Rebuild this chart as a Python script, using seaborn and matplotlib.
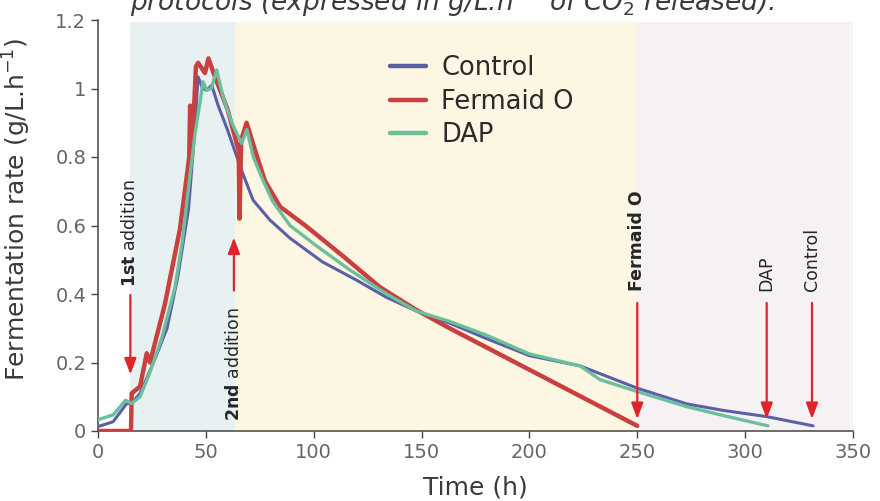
import numpy as np
import pandas as pd
import matplotlib
matplotlib.use("Agg")
import matplotlib.pyplot as plt
import seaborn as sns

# data
control_t = [0, 7, 13.3, 15.5, 19.5, 23, 27, 32, 37, 42, 44.5, 46.4, 48.5, 50.5, 52.7,
             55.7, 60, 66.6, 71.9, 79.7, 89, 104, 120, 133.8, 147.7, 163, 180, 200,
             223.5, 250, 273, 290, 310, 331.5]
control_v = [0.013, 0.027, 0.08, 0.08, 0.11, 0.16, 0.22, 0.30, 0.45, 0.65, 0.85, 1.034,
             1.0, 0.995, 1.01, 0.95, 0.88, 0.76, 0.674, 0.616, 0.563, 0.494, 0.44, 0.39,
             0.35, 0.315, 0.27, 0.22, 0.19, 0.125, 0.079, 0.06, 0.042, 0.015]

fermaid_t = [0, 15.3, 15.6, 19.5, 22.6, 24.1, 31, 38, 42.3, 42.7, 43.5, 45.4, 46.4, 49.6,
             51.2, 54.2, 60, 64.3, 65.2, 65.6, 66.4, 68.9, 72.8, 77.4, 84.4, 96.7, 113.7,
             130.7, 147.7, 163, 250]
fermaid_v = [0, 0, 0.11, 0.13, 0.227, 0.20, 0.37, 0.59, 0.80, 0.95, 0.80, 1.064, 1.075,
             1.045, 1.088, 1.034, 0.94, 0.84, 0.82, 0.62, 0.85, 0.90, 0.82, 0.73, 0.655,
             0.597, 0.51, 0.42, 0.353, 0.30, 0.015]

dap_t = [0, 7, 12.8, 15.5, 19.5, 24, 29.5, 35.7, 39, 42.7, 45, 47.3, 48.7, 50.4, 52.5,
         55, 58, 62, 66.6, 69, 72, 76.6, 81, 89, 101.4, 116.8, 133.8, 147.7, 163, 180,
         200, 223.5, 232.7, 250, 273, 290, 310.6]
dap_v = [0.033, 0.047, 0.09, 0.08, 0.10, 0.17, 0.27, 0.42, 0.55, 0.75, 0.87, 0.96, 1.02,
         0.995, 1.0, 1.054, 0.975, 0.9, 0.84, 0.88, 0.80, 0.73, 0.67, 0.6, 0.54, 0.47,
         0.40, 0.35, 0.32, 0.28, 0.225, 0.19, 0.15, 0.115, 0.071, 0.045, 0.015]

series_names = ["Control", "Fermaid O", "DAP"]
series_colors = ["#5a5fa6", "#c8403f", "#6cbf9b"]
series_widths = [2.2, 3.2, 2.4]

phases = [(15, 63.5, "#e8f1f1"), (63.5, 250, "#fdf6e2"), (250, 350, "#f6f2f4")]

# (time, text, bold part, arrow start, arrow end, text bottom)
markers = [
    (15, "1st addition", True, 0.397, 0.165, 0.42),
    (63, "2nd addition", True, 0.41, 0.565, 0.03),
    (250, "Fermaid O", True, 0.374, 0.035, 0.41),
    (310, "DAP", False, 0.374, 0.035, 0.41),
    (331, "Control", False, 0.374, 0.035, 0.41),
]

df = pd.concat([
    pd.DataFrame({"time": control_t, "rate": control_v, "protocol": "Control"}),
    pd.DataFrame({"time": fermaid_t, "rate": fermaid_v, "protocol": "Fermaid O"}),
    pd.DataFrame({"time": dap_t, "rate": dap_v, "protocol": "DAP"}),
])

sns.set_theme(style="ticks")
plt.rcParams["font.family"] = ["DejaVu Sans"]
plt.rcParams["mathtext.fontset"] = "dejavusans"

fig = plt.figure(figsize=(8.8, 5.01), dpi=100)
ax = fig.add_axes([98 / 880, 70 / 501, 755 / 880, 411 / 501])

for x0, x1, c in phases:
    ax.axvspan(x0, x1, ymin=0, ymax=0.995, color=c, lw=0, zorder=0)

for name, col, lw in zip(series_names, series_colors, series_widths):
    sns.lineplot(data=df[df.protocol == name], x="time", y="rate", ax=ax,
                 color=col, linewidth=lw, sort=False, estimator=None,
                 label=name, zorder=3)

red = "#e2232b"
for t, txt, bold, y0, y1, ytxt in markers:
    ax.annotate("", xy=(t, y1), xytext=(t, y0),
                arrowprops=dict(arrowstyle="-|>,head_length=0.8,head_width=0.3",
                                color=red, lw=1.6, shrinkA=0, shrinkB=0), zorder=4)
    if bold and txt.endswith("addition"):
        first, rest = txt.split(" ", 1)
        label = r"$\mathbf{" + first + "}$ " + rest
        weight = "normal"
    else:
        label = txt
        weight = "bold" if bold else "normal"
    ax.text(t, ytxt, label, rotation=90, ha="center", va="bottom",
            fontsize=12.5, color="#262626", fontweight=weight, zorder=5)

ax.set_xlim(0, 350)
ax.set_ylim(0, 1.2)
ax.set_xticks(range(0, 351, 50))
ax.set_yticks([0, 0.2, 0.4, 0.6, 0.8, 1.0, 1.2])
ax.set_yticklabels(["0", "0.2", "0.4", "0.6", "0.8", "1", "1.2"])
ax.tick_params(labelsize=14, colors="#444444", labelcolor="#666666", length=5, width=1)
ax.tick_params(axis="x", pad=4)
sns.despine(ax=ax)
for s in ["left", "bottom"]:
    ax.spines[s].set_color("#444444")
    ax.spines[s].set_linewidth(1.1)

ax.set_xlabel("Time (h)", fontsize=18, color="#3a3a3a", labelpad=9)
ax.set_ylabel(r"Fermentation rate (g/L.h$^{-1}$)", fontsize=18, color="#3a3a3a")
ax.yaxis.set_label_coords(-0.086, 0.54)

leg = ax.legend(loc="upper left", bbox_to_anchor=(390 / 880, 1 - 55 / 501),
                bbox_transform=fig.transFigure, frameon=False, fontsize=18.5,
                handlelength=1.4, handletextpad=0.6, labelspacing=0.3,
                borderpad=0, borderaxespad=0)
for line in leg.get_lines():
    line.set_linewidth(3.2)
for text in leg.get_texts():
    text.set_color("#2a2a2a")

fig.text(130 / 880, 1 - 11 / 501,
         r"protocols (expressed in g/L.h$^{-1}$ of CO$_{2}$ released).",
         fontsize=19, style="italic", color="#3a3a3a", va="baseline", ha="left")

fig.savefig("out.png", dpi=100)
